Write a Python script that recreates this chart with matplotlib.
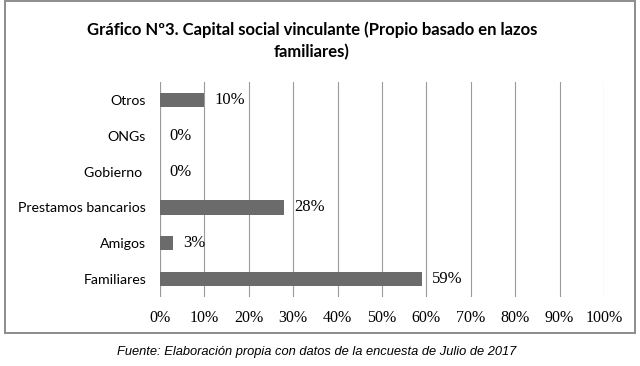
import matplotlib
matplotlib.use("Agg")
import matplotlib.pyplot as plt
from matplotlib.patches import Rectangle

categories = ["Familiares", "Amigos", "Prestamos bancarios", "Gobierno ", "ONGs", "Otros"]
values = [59, 3, 28, 0, 0, 10]
xticks = [0, 10, 20, 30, 40, 50, 60, 70, 80, 90, 100]
xticklabels = [f"{v}%" for v in xticks]
title = "Gráfico Nº3. Capital social vinculante (Propio basado en lazos\nfamiliares)"
caption = "Fuente: Elaboración propia con datos de la encuesta de Julio de 2017"

W, H = 640, 366
fig = plt.figure(figsize=(W / 100, H / 100), dpi=100)
fig.patch.set_facecolor("white")

# outer frame
fig.patches.append(Rectangle((5 / W, 1 - 333 / H), 630 / W, 332 / H,
                             transform=fig.transFigure, fill=False,
                             edgecolor="#8c8c8c", linewidth=1.4))

ax = fig.add_axes([160 / W, 1 - 297 / H, 444 / W, 215 / H])
ypos = list(range(len(categories)))
ax.barh(ypos, values, height=0.4, color="#6b6b6b", zorder=3)
ax.set_xlim(0, 100)
ax.set_ylim(-0.5, len(categories) - 0.5)
ax.set_xticks(xticks)
ax.set_xticklabels(xticklabels, fontfamily="Liberation Serif", fontsize=11.5)
ax.set_yticks(ypos)
ax.set_yticklabels(categories, fontfamily="Lato", fontsize=10.2)
ax.tick_params(axis="both", length=0)
ax.tick_params(axis="x", pad=9)
ax.tick_params(axis="y", pad=10)
for s in ax.spines.values():
    s.set_visible(False)
ax.xaxis.grid(True, color="#9a9a9a", linewidth=0.8, zorder=0)
ax.axvline(0, color="#9a9a9a", linewidth=0.8, zorder=1)

for y, v in zip(ypos, values):
    ax.annotate(f"{v}%", (v, y), xytext=(7, 0), textcoords="offset points",
                va="center", ha="left", fontfamily="Liberation Serif", fontsize=12)

fig.text(312 / W, 1 - 41 / H, title, ha="center", va="center",
         fontfamily="Lato", fontweight="bold", fontsize=12, linespacing=1.5)
fig.text(317 / W, 1 - 352 / H, caption, ha="center", va="center",
         fontfamily="Liberation Sans", fontstyle="italic", fontsize=9.3)

fig.savefig("out.png", dpi=100)
